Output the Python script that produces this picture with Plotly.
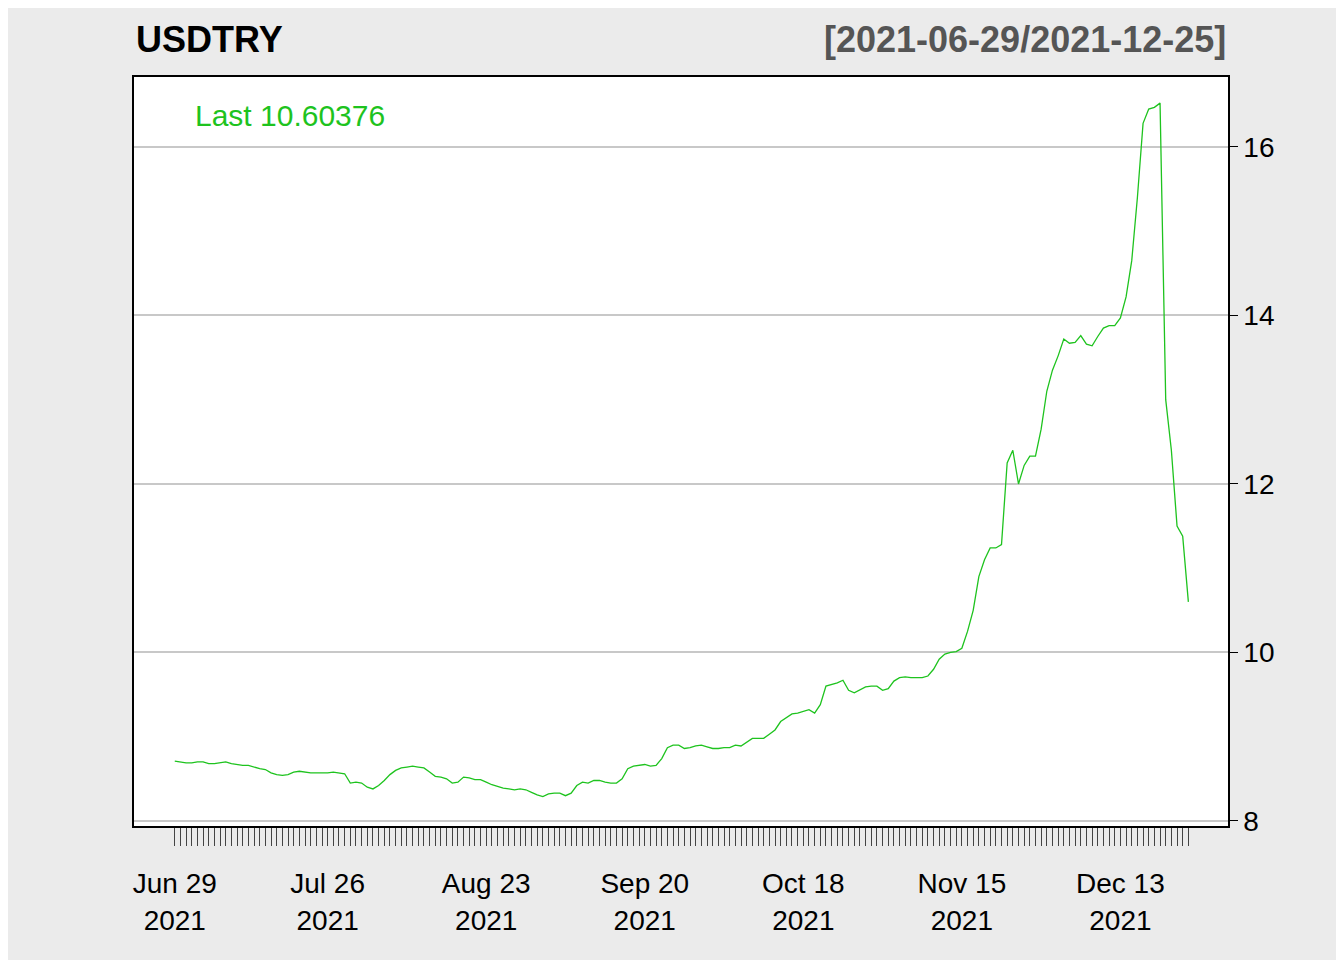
import pandas as pd
import plotly.graph_objects as go

symbol = "USDTRY"
start_date = "2021-06-29"
end_date = "2021-12-25"

usdtry = [
    8.71, 8.70, 8.69, 8.69, 8.70, 8.70, 8.68, 8.68, 8.69, 8.70, 8.68,
    8.67, 8.66, 8.66, 8.64, 8.62, 8.61, 8.57, 8.55, 8.54, 8.55,
    8.58, 8.59, 8.58, 8.57, 8.57, 8.57, 8.57, 8.58, 8.57, 8.56,
    8.45, 8.46, 8.45, 8.40, 8.38, 8.42, 8.48, 8.55, 8.60, 8.63,
    8.64, 8.65, 8.64, 8.63, 8.58, 8.53, 8.52, 8.50, 8.45, 8.46,
    8.52, 8.51, 8.49, 8.49, 8.46, 8.43, 8.41, 8.39, 8.38, 8.37,
    8.38, 8.37, 8.34, 8.31, 8.29, 8.32, 8.33, 8.33, 8.30, 8.33,
    8.42, 8.46, 8.45, 8.48, 8.48, 8.46, 8.45, 8.45, 8.50, 8.62,
    8.65, 8.66, 8.67, 8.65, 8.66, 8.74, 8.87, 8.90, 8.90, 8.86,
    8.87, 8.89, 8.90, 8.88, 8.86, 8.86, 8.87, 8.87, 8.90, 8.89,
    8.93, 8.98, 8.98, 8.98, 9.03, 9.08, 9.18, 9.23, 9.27, 9.28,
    9.30, 9.32, 9.28, 9.38, 9.60, 9.62, 9.64, 9.67, 9.55, 9.52,
    9.56, 9.59, 9.60, 9.60, 9.55, 9.57, 9.66, 9.70, 9.71, 9.70,
    9.70, 9.70, 9.72, 9.80, 9.92, 9.98, 10.00, 10.01, 10.05, 10.25,
    10.50, 10.90, 11.10, 11.24, 11.24, 11.28, 12.25, 12.40, 12.00, 12.22,
    12.33, 12.33, 12.65, 13.10, 13.35, 13.52, 13.72, 13.67, 13.68, 13.76,
    13.66, 13.64, 13.75, 13.85, 13.88, 13.88, 13.97, 14.22, 14.65, 15.40,
    16.28, 16.45, 16.47, 16.52, 13.00, 12.40, 11.50, 11.38, 10.60,
]
last_value = 10.60376
y_ticks = [8, 10, 12, 14, 16]

dates = pd.date_range(start_date, periods=len(usdtry), freq="D")

# label every 4th week, blank tick for every other day
label_days = [0, 27, 55, 83, 111, 139, 167]
tick_text = [(d.strftime("%b %d") + "<br>" + d.strftime("%Y")) if i in label_days else "" for i, d in enumerate(dates)]

fig = go.Figure()
fig.add_trace(go.Scatter(x=dates, y=usdtry, mode="lines",
                         line=dict(color="#1ec31e", width=1.3), showlegend=False))

fig.update_layout(
    width=1344, height=960,
    paper_bgcolor="#ebebeb", plot_bgcolor="white",
    margin=dict(l=126, r=124, t=69, b=142),
    font=dict(family="Liberation Sans, Arial", size=28, color="black"),
    xaxis=dict(range=[dates[0] - pd.Timedelta(days=7.2), dates[0] + pd.Timedelta(days=186)],
               tickvals=list(dates), ticktext=tick_text, tickangle=0,
               ticks="outside", ticklen=18, tickwidth=1, tickcolor="#444",
               ticklabelstandoff=14,
               showgrid=False, showline=True, linecolor="black", linewidth=1.5,
               mirror=True, zeroline=False),
    yaxis=dict(range=[7.94, 16.83], side="right", tickvals=y_ticks,
               ticks="outside", ticklen=8, tickcolor="black",
               showgrid=True, gridcolor="#c8c8c8", gridwidth=1.5,
               showline=True, linecolor="black", linewidth=1.5, mirror=True,
               zeroline=False),
)

fig.add_annotation(text="<b>" + symbol + "</b>", xref="paper", yref="paper",
                   x=0, y=1, yshift=38, xanchor="left", yanchor="middle",
                   showarrow=False, font=dict(size=36, color="black"))
fig.add_annotation(text="<b>[" + start_date + "/" + end_date + "]</b>", xref="paper", yref="paper",
                   x=1, y=1, yshift=38, xanchor="right", yanchor="middle",
                   showarrow=False, font=dict(size=36, color="#555555"))
fig.add_annotation(text="Last " + str(last_value), xref="paper", yref="paper",
                   x=0.0535, y=0.949, xanchor="left", yanchor="middle",
                   showarrow=False, font=dict(size=30, color="#1ec31e"))

fig.write_html("out.html")
